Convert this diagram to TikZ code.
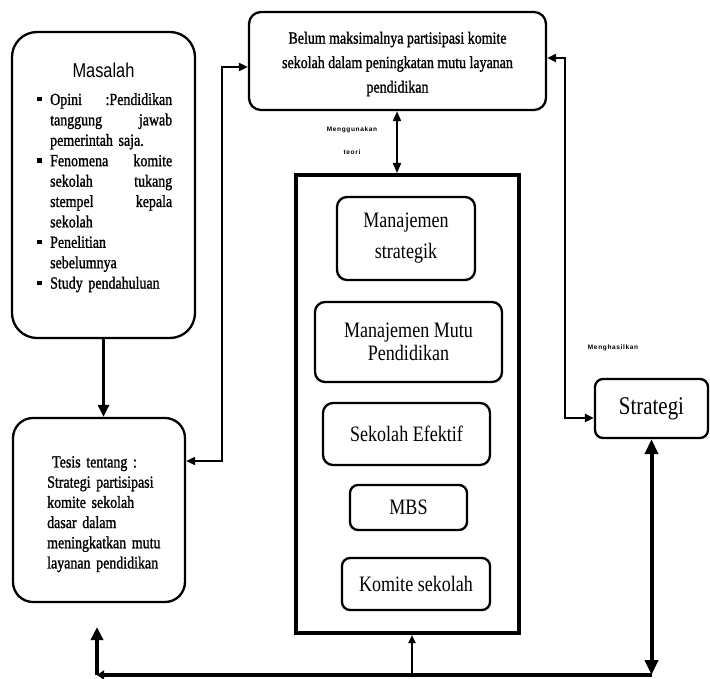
\documentclass[tikz,border=0pt]{standalone}
\usepackage{fontspec}
\setmainfont{Liberation Serif}[FakeStretch=0.82]
\newfontfamily\bodyf{Liberation Serif}[FakeStretch=0.82,FakeBold=1.2]
\newfontfamily\titlef{Liberation Sans}[FakeStretch=0.82]
\newfontfamily\tinyf{Liberation Sans Bold}[LetterSpace=10]
\usetikzlibrary{arrows.meta}
\newcommand\fsz[2]{\fontsize{#1}{#2}\selectfont}
\newcommand\bul{\makebox[13pt][l]{\rule[3.5pt]{4.5pt}{4.5pt}}}
\newcommand\ind{\hspace*{13pt}}
\newcommand\jl[2]{\hbox to 122pt{#1\hfill #2}}
\tikzset{
  rbox/.style={draw, line width=2.3pt, rounded corners=#1, inner sep=0pt},
  txt/.style={inner sep=0pt},
  lab/.style={inner sep=0pt, font=\tinyf\fsz{6.5}{7}},
  tipA/.tip={Triangle[length=9pt,width=8pt]},
}
\begin{document}
\begin{tikzpicture}[x=1pt,y=-1pt]
\useasboundingbox (0,0) rectangle (710,679);
% boxes
\node[rbox=25pt, minimum width=183pt, minimum height=306pt] (mas) at (103.5,185) {};
\node[rbox=12pt, minimum width=297pt, minimum height=98pt] (top) at (397.5,61) {};
\node[rbox=20pt, minimum width=172pt, minimum height=184pt] (tes) at (99,510) {};
\node[rbox=8pt, minimum width=113pt, minimum height=59pt] (str) at (651.5,408.5) {};
\node[draw, line width=4pt, minimum width=223pt, minimum height=458pt, inner sep=0pt] (big) at (407.5,404) {};
\node[rbox=10pt, minimum width=138pt, minimum height=83pt] (ms) at (406,238.5) {};
\node[rbox=10pt, minimum width=187pt, minimum height=80pt] (mmp) at (408.5,342) {};
\node[rbox=10pt, minimum width=167pt, minimum height=62pt] (se) at (406.5,434) {};
\node[rbox=8pt, minimum width=117pt, minimum height=45pt] (mbs) at (408.5,507.5) {};
\node[rbox=8pt, minimum width=148pt, minimum height=52pt] (ks) at (416,584) {};
% texts
\node[txt, font=\titlef\fsz{20}{20}] (mtitle) at (103.5,70) {Masalah};
\node[txt, anchor=north west, text width=140pt, align=left, font=\bodyf\fsz{17}{20.4}] (mtxt) at (37,93) {%
\bul\jl{Opini}{:Pendidikan}\\
\ind\jl{tanggung}{jawab}\\
\ind pemerintah saja.\\
\bul\jl{Fenomena}{komite}\\
\ind\jl{sekolah}{tukang}\\
\ind\jl{stempel}{kepala}\\
\ind sekolah\\
\bul Penelitian\\
\ind sebelumnya\\
\bul Study pendahuluan};
\node[txt, align=center, font=\bodyf\fsz{17}{24.5}] (ttxt) at (397.5,64) {Belum maksimalnya partisipasi komite\\sekolah dalam peningkatan mutu layanan\\pendidikan};
\node[txt, anchor=north west, text width=125pt, align=left, font=\bodyf\fsz{17}{20.2}] (tetxt) at (47,456) {%
\hspace*{5pt}Tesis tentang :\\
Strategi partisipasi\\
komite sekolah\\
dasar dalam\\
meningkatkan mutu\\
layanan pendidikan};
\node[txt, font=\fsz{25.5}{26}] (sttxt) at (str.center) {Strategi};
\node[txt, align=center, font=\fsz{22}{31}] at (ms.center) {Manajemen\\strategik};
\node[txt, align=center, font=\fsz{22}{23}] at (mmp.center) {Manajemen Mutu\\Pendidikan};
\node[txt, font=\fsz{22}{22}] at (se.center) {Sekolah Efektif};
\node[txt, font=\fsz{22}{22}] at (mbs.center) {MBS};
\node[txt, font=\fsz{22}{22}] at (ks.center) {Komite sekolah};
\node[lab] (lab1) at (352,130) {Menggunakan};
\node[lab] (lab2) at (352,152) {teori};
\node[lab] (lab3) at (613,348) {Menghasilkan};
% helper coordinates
\coordinate (y67) at (0,67);
\coordinate (y461) at (0,461);
\coordinate (lv) at (222,300);
\coordinate (y58) at (0,58);
\coordinate (y418) at (0,418);
\coordinate (rv) at (565,300);
\coordinate (cx1) at (397,0);
\coordinate (cx2) at (412,0);
\coordinate (bl) at (97,675);
\coordinate (lt) at (97,627);
% connectors
\draw[line width=3pt, -{Triangle[length=12pt,width=11pt]}] (mas.south) -- (mas.south |- tes.north);
\draw[line width=2pt, tipA-tipA] (top.west |- y67) -| (lv) |- (tes.east |- y461);
\draw[line width=2.4pt, tipA-tipA] (top.east |- y58) -| (rv) |- (str.west |- y418);
\draw[line width=2pt, {Triangle[length=10pt,width=8pt]}-{Triangle[length=10pt,width=8pt]}] (top.south -| cx1) -- (big.north -| cx1);
\draw[line width=4pt, {Triangle[length=15pt,width=13pt]}-{Triangle[length=15pt,width=13pt]}] (str.south) -- (str.south |- bl);
\draw[line width=4pt, {Triangle[length=7pt,width=9pt]}-] (bl) -- (str.south |- bl);
\draw[line width=3.5pt, -{Triangle[length=13pt,width=12pt]}] (bl) -- (lt);
\draw[line width=2pt, -{Triangle[length=8pt,width=7pt]}] (bl -| cx2) -- (big.south -| cx2);
\end{tikzpicture}
\end{document}
